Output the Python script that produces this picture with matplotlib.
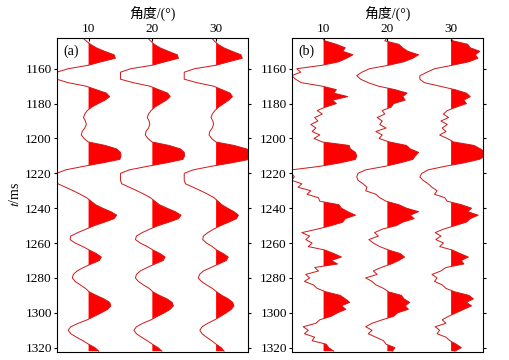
import numpy as np
import matplotlib
matplotlib.use("Agg")
import matplotlib.pyplot as plt

plt.rcParams['font.family'] = ['Liberation Serif', 'Noto Sans CJK SC']
plt.rcParams['mathtext.fontset'] = 'stix'

# two-way time samples (ms), every 2 ms
t = np.arange(1142, 1323, 2)
angles = [10, 20, 30]

# (a) noise-free gathers, amplitude in degree units
a10 = [-1.0, -0.4, 0.3, 1.2, 2.5, 4.0, 4.2, 2.0, 0.0, -3.2,
       -5.0, -5.0, -5.0, -3.2, -0.4, 1.2, 2.8, 3.3, 2.6, 1.5,
       0.5, -0.2, -0.6, -0.8, -0.5, -0.35, -0.6, -1.0, -1.15, -0.7,
       -0.05, 2.6, 4.4, 5.0, 5.1, 4.9, 2.2, -0.8, -3.6, -5.0,
       -5.0, -5.0, -4.8, -3.6, -2.4, -1.3, -0.3, 0.4, 1.1, 2.2,
       3.5, 4.4, 4.0, 2.5, 0.9, -0.4, -1.7, -2.8, -2.9, -2.1,
       -0.9, 0.1, 1.2, 2.0, 1.7, 0.4, -0.8, -1.8, -2.4, -2.55,
       -2.1, -1.3, -0.5, 0.1, 1.2, 2.4, 3.3, 3.5, 3.0, 2.0,
       0.9, -0.2, -1.6, -2.8, -3.2, -2.8, -1.9, -0.9, 0.0, 1.0, 1.6]
a20 = [-0.8, -0.3, 0.3, 1.2, 2.5, 3.9, 4.1, 2.0, 0.0, -3.4,
       -5.0, -5.0, -5.0, -3.0, -0.4, 1.0, 2.4, 2.8, 2.2, 1.3,
       0.4, -0.2, -0.6, -0.8, -0.5, -0.4, -0.6, -1.0, -1.1, -0.7,
       -0.05, 2.6, 4.4, 5.0, 5.05, 4.8, 2.2, -0.8, -3.6, -5.0,
       -5.0, -5.0, -4.8, -3.6, -2.4, -1.3, -0.3, 0.4, 1.1, 2.3,
       3.6, 4.5, 4.1, 2.6, 0.9, -0.4, -1.6, -2.5, -2.65, -1.9,
       -0.8, 0.1, 1.2, 2.0, 1.7, 0.4, -0.8, -1.9, -2.5, -2.65,
       -2.2, -1.4, -0.5, 0.1, 1.1, 2.3, 3.1, 3.3, 2.8, 1.9,
       0.8, -0.2, -1.5, -2.5, -2.9, -2.5, -1.7, -0.8, 0.0, 0.9, 1.5]
a30 = [-0.8, -0.3, 0.3, 1.2, 2.5, 3.9, 4.1, 2.0, 0.0, -3.4,
       -5.0, -5.0, -5.0, -3.0, -0.4, 0.9, 2.2, 2.55, 2.0, 1.2,
       0.4, -0.2, -0.6, -0.8, -0.5, -0.4, -0.6, -1.0, -1.1, -0.7,
       -0.05, 2.8, 4.8, 5.4, 5.5, 5.2, 2.4, -0.8, -3.6, -5.0,
       -5.0, -5.0, -4.8, -3.6, -2.4, -1.3, -0.3, 0.3, 0.9, 1.8,
       2.8, 3.5, 3.2, 2.0, 0.7, -0.4, -1.3, -2.0, -2.1, -1.5,
       -0.6, 0.1, 1.1, 1.9, 1.6, 0.4, -0.8, -2.0, -2.6, -2.8,
       -2.3, -1.5, -0.6, 0.1, 0.9, 1.9, 2.6, 2.8, 2.4, 1.6,
       0.7, -0.2, -1.3, -2.2, -2.55, -2.2, -1.5, -0.7, 0.0, 0.8, 1.25]

# (b) noisy gathers
b10 = [-0.3, 0.2, 2.0, 3.4, 3.0, 4.6, 3.6, 2.4, -0.2, -4.2,
       -3.6, -5.0, -4.4, -3.5, -0.2, 2.0, 1.6, 3.8, 1.4, 2.0,
       0.3, -1.0, -0.2, -1.4, -0.9, -2.0, -1.2, -1.8, -0.6, -1.5,
       -0.2, 4.0, 4.2, 5.0, 5.2, 5.0, 2.6, -0.6, -5.0, -5.0,
       -4.6, -5.0, -3.4, -4.0, -2.0, -2.6, -0.8, -0.6, 2.4, 2.8,
       3.8, 5.0, 3.4, 3.0, 1.2, -1.0, -3.4, -2.2, -2.8, -1.8,
       -2.4, 0.2, 1.6, 2.8, 1.2, 2.2, -1.4, -0.8, -2.8, -2.2,
       -3.0, -1.6, -1.0, 0.4, 2.6, 3.4, 4.1, 2.8, 3.5, 2.2,
       1.2, -0.6, -1.2, -3.2, -2.4, -3.0, -1.4, -1.8, 0.4, 0.8, 1.6]
b20 = [0.0, -0.4, 1.8, 2.4, 3.2, 4.9, 4.0, 2.6, 0.2, -2.8,
       -4.0, -4.8, -4.2, -3.0, -1.4, 1.2, 3.1, 2.4, 2.8, 1.0,
       0.6, -0.8, -0.4, -1.6, -0.8, -1.2, -0.2, -1.8, -0.8, -1.3,
       0.3, 3.0, 3.6, 4.9, 4.4, 4.0, 2.0, -0.4, -3.4, -4.6,
       -4.8, -4.6, -3.8, -3.2, -3.4, -1.8, -1.2, -0.2, 1.8, 3.0,
       4.9, 3.6, 4.2, 2.4, 1.4, -0.8, -2.0, -1.4, -2.9, -2.2,
       -1.2, 0.2, 2.0, 2.7, 1.8, 0.6, -1.0, -2.2, -1.6, -3.4,
       -2.4, -1.8, -0.6, 0.2, 2.2, 2.6, 3.5, 2.8, 3.3, 1.6,
       1.0, -0.8, -2.4, -3.4, -2.4, -3.0, -1.8, -0.6, -0.2, 1.2, 0.8]
b30 = [-0.2, 0.3, 2.6, 3.0, 4.5, 3.8, 4.2, 2.8, 0.2, -2.6,
       -3.8, -4.9, -4.9, -4.2, -1.8, 0.6, 2.4, 3.0, 2.0, 2.4,
       0.8, -0.6, -1.2, -0.4, -1.6, -0.6, -1.4, -0.8, -1.8, -0.6,
       0.4, 3.6, 4.6, 5.4, 5.5, 4.4, 2.0, -1.0, -3.6, -4.6,
       -4.9, -4.4, -3.6, -3.0, -2.2, -2.6, -1.0, -0.6, 1.6, 3.2,
       2.6, 4.25, 3.0, 2.4, 0.6, -1.2, -2.5, -1.6, -2.4, -1.2,
       -1.8, 0.2, 1.4, 2.7, 1.6, 2.0, -0.8, -1.6, -3.0, -2.2,
       -2.6, -1.4, -0.8, 0.6, 2.8, 3.5, 2.4, 3.2, 2.0, 0.8,
       -0.4, -1.4, -0.8, -2.5, -1.8, -2.2, -0.8, -0.2, 0.8, 1.6, 0.6]

panels = [("(a)", [a10, a20, a30]), ("(b)", [b10, b20, b30])]
yticks = [1160, 1180, 1200, 1220, 1240, 1260, 1280, 1300, 1320]

fig = plt.figure(figsize=(5.09, 3.60), dpi=100)
lefts = [0.1114, 0.5731]
for left, (tag, traces) in zip(lefts, panels):
    ax = fig.add_axes([left, 0.0231, 0.3758, 0.8722])
    for ang, vals in zip(angles, traces):
        v = np.array(vals)
        ax.fill_betweenx(t, ang, ang + v, where=v > 0, interpolate=True,
                         color="#ff0000", lw=0)
        ax.plot(ang + v, t, color="#d01818", lw=0.7)
    ax.set_xlim(5, 35)
    ax.set_ylim(1322.3, 1142.2)
    ax.xaxis.tick_top()
    ax.xaxis.set_label_position("top")
    ax.set_xticks(angles)
    ax.set_yticks(yticks)
    ax.set_xlabel("角度/(°)", fontsize=10, labelpad=3)
    ax.tick_params(axis="x", direction="in", length=2.5, pad=2, labelsize=9.5)
    ax.tick_params(axis="y", direction="out", length=2.5, pad=1, labelsize=9.5,
                   right=True)
    ax.text(0.033, 0.958, tag, transform=ax.transAxes, fontsize=10,
            va="center", ha="left")
    for s in ax.spines.values():
        s.set_linewidth(0.8)
    if tag == "(a)":
        ax.set_ylabel(r"$t$/ms", fontsize=10, labelpad=2)

fig.savefig("out.png", dpi=100)
